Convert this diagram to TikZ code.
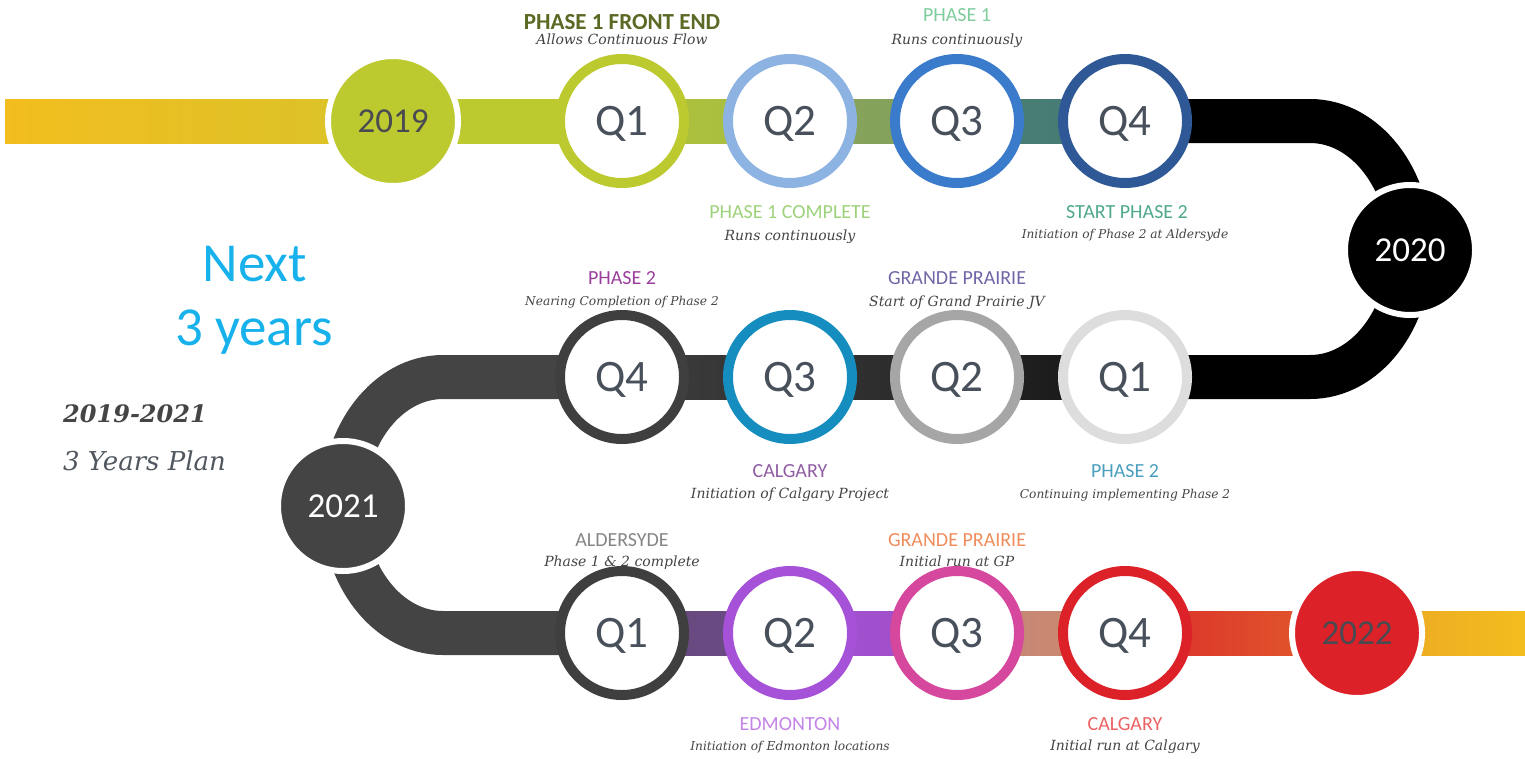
\documentclass[tikz,border=0pt]{standalone}
\usepackage{fontspec}
\setmainfont{Carlito}
\newfontfamily\slabfont{DejaVu Serif}
\usetikzlibrary{calc,backgrounds}
\definecolor{yelA}{HTML}{F2BD1E}
\definecolor{yelB}{HTML}{D8C32A}
\definecolor{lime}{HTML}{BCCA30}
\definecolor{lblue}{HTML}{8DB3E2}
\definecolor{mblue}{HTML}{3B7BCB}
\definecolor{dblue}{HTML}{2F5996}
\definecolor{dgray}{HTML}{444444}
\definecolor{ringlg}{HTML}{DDDDDD}
\definecolor{ringmg}{HTML}{A6A6A6}
\definecolor{ringteal}{HTML}{168DBF}
\definecolor{ringdg}{HTML}{3F3F3F}
\definecolor{purp}{HTML}{A552D9}
\definecolor{mag}{HTML}{D6479E}
\definecolor{redA}{HTML}{DC2128}
\definecolor{qtxt}{HTML}{48505B}
\definecolor{ytxt}{HTML}{4A4A52}
\definecolor{dtxt}{HTML}{444444}
\definecolor{cyanA}{HTML}{17B1EC}
\definecolor{spantxt}{HTML}{454545}
\definecolor{plantxt}{HTML}{50575F}
\definecolor{olive}{HTML}{5A6A25}
\definecolor{mint}{HTML}{7FCC9C}
\definecolor{lgreen}{HTML}{9DD27B}
\definecolor{tealt}{HTML}{4EA88C}
\definecolor{purpt}{HTML}{9A3F9C}
\definecolor{grapt}{HTML}{7066A6}
\definecolor{calgt}{HTML}{8F5CA3}
\definecolor{phbt}{HTML}{4A9EBE}
\definecolor{aldt}{HTML}{858585}
\definecolor{oranget}{HTML}{F08C5C}
\definecolor{edmt}{HTML}{C384E6}
\definecolor{redt}{HTML}{EA6262}
\definecolor{barA}{HTML}{B0C33A}
\definecolor{barB}{HTML}{A6BC44}
\definecolor{barC}{HTML}{8AA45C}
\definecolor{barD}{HTML}{80A05A}
\definecolor{barE}{HTML}{4A7F72}
\definecolor{barF}{HTML}{437A74}
\definecolor{barG}{HTML}{64487C}
\definecolor{barH}{HTML}{6E4C86}
\definecolor{barI}{HTML}{9E50D2}
\definecolor{barJ}{HTML}{A54FC8}
\definecolor{barK}{HTML}{C0867C}
\definecolor{barL}{HTML}{D08A68}
\definecolor{barM}{HTML}{DA2A2A}
\definecolor{barN}{HTML}{E2622C}
\definecolor{barO}{HTML}{ECA427}
\newcommand\tlbar[4]{\shade[left color=#3,right color=#4] ($(#1)+(0,-22)$) rectangle ($(#2)+(0,22)$);}
\begin{document}
\begin{tikzpicture}[x=1pt,y=-1pt,
  qring/.style={circle,draw=#1,line width=10pt,fill=white,minimum size=124pt,inner sep=0pt,text=qtxt,font=\fontsize{45}{45}\selectfont,text height=29pt,text depth=0pt},
  yearc/.style={circle,fill=#1,draw=white,line width=6pt,minimum size=130pt,inner sep=0pt,font=\fontsize{35}{35}\selectfont,text height=22.5pt,text depth=0pt},
  ttl/.style={anchor=base,inner sep=0pt,font=\fontsize{20}{20}\selectfont,text=#1},
  dsc/.style={anchor=base,inner sep=0pt,font=\slabfont\itshape\fontsize{14}{14}\selectfont,text=dtxt},
  dscs/.style={anchor=base,inner sep=0pt,font=\slabfont\itshape\fontsize{12.2}{12.2}\selectfont,text=dtxt},
  bigtxt/.style={anchor=base,inner sep=0pt,text=cyanA,font=\fontsize{55}{55}\selectfont}
]
\useasboundingbox (0,0) rectangle (1525,758);
% circles
\node[yearc=lime,text=ytxt] (y19) at (393,121) {2019};
\node[qring=lime] (a1) at (622,121) {Q1};
\node[qring=lblue] (a2) at (790,121) {Q2};
\node[qring=mblue] (a3) at (957,121) {Q3};
\node[qring=dblue] (a4) at (1125,121) {Q4};
\node[yearc=black,text=white] (y20) at (1410,250) {2020};
\node[qring=ringlg] (b1) at (1125,377) {Q1};
\node[qring=ringmg] (b2) at (957,377) {Q2};
\node[qring=ringteal] (b3) at (790,377) {Q3};
\node[qring=ringdg] (b4) at (622,377) {Q4};
\node[yearc=dgray,text=white] (y21) at (343,506) {2021};
\node[qring=ringdg] (c1) at (622,633) {Q1};
\node[qring=purp] (c2) at (790,633) {Q2};
\node[qring=mag] (c3) at (957,633) {Q3};
\node[qring=redA] (c4) at (1125,633) {Q4};
\node[yearc=redA,text=ytxt] (y22) at (1357,633) {2022};
\coordinate (start) at (5,121);
\coordinate (finish) at (1525,633);
\coordinate (rtop) at (1310,121);
\coordinate (ltop) at (443,377);
% bars
\begin{scope}[on background layer]
\tlbar{start}{y19}{yelA}{yelB}
\tlbar{y19}{a1}{lime}{lime}
\tlbar{a1}{a2}{barA}{barB}
\tlbar{a2}{a3}{barC}{barD}
\tlbar{a3}{a4}{barE}{barF}
\draw[line width=44pt,black] (a4.center) -- (rtop) arc[start angle=90,end angle=-90,x radius=100pt,y radius=128pt] -- (b1.center);
\tlbar{b2}{b1}{black!85}{black!92}
\tlbar{b3}{b2}{black!80}{black!84}
\tlbar{b4}{b3}{black!76}{black!80}
\draw[line width=44pt,dgray] (b4.center) -- (ltop) arc[start angle=90,end angle=270,x radius=100pt,y radius=128pt] -- (c1.center);
\tlbar{c1}{c2}{barG}{barH}
\tlbar{c2}{c3}{barI}{barJ}
\tlbar{c3}{c4}{barK}{barL}
\tlbar{c4}{y22}{barM}{barN}
\tlbar{y22}{finish}{barO}{yelA}
\end{scope}
% left texts
\node[bigtxt] (next) at (255,281) {Next};
\node[bigtxt] (yrs) at (254,345) {3 years};
\node[anchor=base west,inner sep=0pt,text=spantxt,font=\slabfont\bfseries\itshape\fontsize{24}{24}\selectfont] (span) at (63,422) {2019-2021};
\node[anchor=base west,inner sep=0pt,text=plantxt,font=\slabfont\itshape\fontsize{26}{26}\selectfont] (plan) at (63,470) {3 Years Plan};
% labels row 1
\node[anchor=base,inner sep=0pt,text=olive,font=\bfseries\fontsize{23}{23}\selectfont] (l1a) at (622,29) {PHASE 1 FRONT END};
\node[dsc] (l1b) at (622,44.5) {Allows Continuous Flow};
\node[ttl=mint] (l3a) at (957,21) {PHASE 1};
\node[dsc] (l3b) at (957,44) {Runs continuously};
\node[ttl=lgreen] (l2a) at (790,218.5) {PHASE 1 COMPLETE};
\node[dsc] (l2b) at (790,240) {Runs continuously};
\node[ttl=tealt] (l4a) at (1127,218.5) {START PHASE 2};
\node[dscs] (l4b) at (1125,238) {Initiation of Phase 2 at Aldersyde};
% row 2
\node[ttl=purpt] (m4a) at (622,284.5) {PHASE 2};
\node[dscs] (m4b) at (622,305) {Nearing Completion of Phase 2};
\node[ttl=grapt] (m2a) at (957,284.5) {GRANDE PRAIRIE};
\node[dsc] (m2b) at (957,306) {Start of Grand Prairie JV};
\node[ttl=calgt] (m3a) at (790,477) {CALGARY};
\node[dsc] (m3b) at (790,498) {Initiation of Calgary Project};
\node[ttl=phbt] (m1a) at (1125,477) {PHASE 2};
\node[dscs] (m1b) at (1125,498) {Continuing implementing Phase 2};
% row 3
\node[ttl=aldt] (n1a) at (622,546) {ALDERSYDE};
\node[dsc] (n1b) at (622,566) {Phase 1 \& 2 complete};
\node[ttl=oranget] (n3a) at (957,546) {GRANDE PRAIRIE};
\node[dsc] (n3b) at (957,566) {Initial run at GP};
\node[ttl=edmt] (n2a) at (790,730) {EDMONTON};
\node[dscs] (n2b) at (790,750) {Initiation of Edmonton locations};
\node[ttl=redt] (n4a) at (1125,730) {CALGARY};
\node[dsc] (n4b) at (1125,750) {Initial run at Calgary};
\end{tikzpicture}
\end{document}
